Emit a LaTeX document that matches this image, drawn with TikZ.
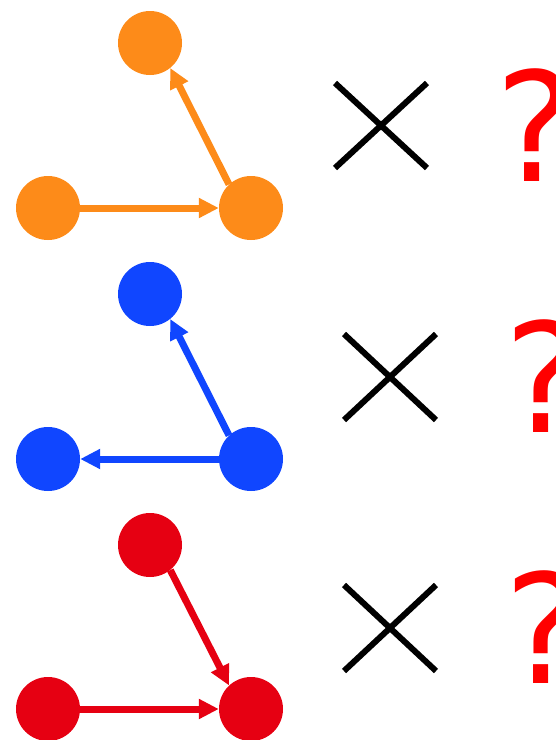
\documentclass[tikz,border=0pt]{standalone}
\usepackage{fontspec}
\usetikzlibrary{arrows.meta,positioning}
\newfontfamily\qfont{DejaVu Sans}
\definecolor{dotorange}{RGB}{253,139,25}
\definecolor{dotblue}{RGB}{16,70,255}
\definecolor{dotred}{RGB}{230,0,18}

\begin{document}
\begin{tikzpicture}[
    x=1pt, y=-1pt,
    dot/.style={circle, inner sep=0pt, minimum size=64pt},
    flow/.style={-{Triangle[length=20pt, width=19pt]}, line width=7pt},
    cross/.style={line width=6pt, black},
    ask/.style={font=\qfont\fontsize{152}{152}\selectfont, text=red, inner sep=0pt, anchor=base west}
]
\useasboundingbox (0,0) rectangle (556,740);
% orange
\node[dot, fill=dotorange] (otop) at (150,43) {};
\node[dot, fill=dotorange] (oleft) at (48,208) {};
\node[dot, fill=dotorange] (oright) at (251,208) {};
\draw[flow, dotorange] (oleft) -- (oright);
\draw[flow, dotorange] (oright.133) -- (otop.-51);
% blue
\node[dot, fill=dotblue] (btop) at (150,294) {};
\node[dot, fill=dotblue] (bleft) at (48,459) {};
\node[dot, fill=dotblue] (bright) at (251,459) {};
\draw[flow, dotblue] (bright) -- (bleft);
\draw[flow, dotblue] (bright.133) -- (btop.-51);
% red
\node[dot, fill=dotred] (rtop) at (150,545) {};
\node[dot, fill=dotred] (rleft) at (48,709) {};
\node[dot, fill=dotred] (rright) at (251,709) {};
\draw[flow, dotred] (rleft) -- (rright);
\draw[flow, dotred] (rtop.-51) -- (rright.133);
% crosses
\draw[cross] (335,83) -- (427,168) (427,83) -- (335,168);
\draw[cross] (344,334) -- (436,420) (436,334) -- (344,420);
\draw[cross] (344,585) -- (436,671) (436,585) -- (344,671);
% question marks
\node[ask] (q1) at (495,181) {?};
\node[ask] (q2) at (504,432) {?};
\node[ask] (q3) at (504,683) {?};
\end{tikzpicture}
\end{document}
